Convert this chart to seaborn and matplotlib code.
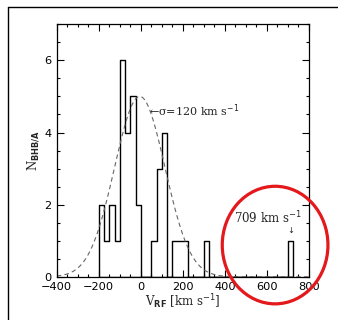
"""
Recreate the BHB/A radial velocity histogram with the 709 km/s outlier circled.

Usage:
    python plot.py
"""

import numpy as np
import matplotlib

matplotlib.use("Agg")

import matplotlib.pyplot as plt
import seaborn as sns
from matplotlib.patches import Ellipse
from matplotlib.lines import Line2D
from matplotlib.ticker import MultipleLocator

# =============================================================================
# Data
# =============================================================================

# left edges of the 25 km/s bins
bin_left = [-200, -175, -150, -125, -100, -75, -50, -25, 0, 25, 50, 75,
            100, 125, 150, 175, 200, 225, 250, 275, 300, 325, 350, 375,
            400, 425, 450, 475, 500, 525, 550, 575, 600, 625, 650, 675, 700]

bin_counts = [2, 1, 2, 1, 6, 4, 5, 2, 0, 0, 1, 3,
              4, 0, 1, 1, 1, 0, 0, 0, 1, 0, 0, 0,
              0, 0, 0, 0, 0, 0, 0, 0, 0, 0, 0, 0, 1]

BIN_WIDTH = 25

# gaussian model drawn over the histogram
gauss_peak = 5.0
gauss_center = -5.0
gauss_sigma = 120.0

x_ticks = [-400, -200, 0, 200, 400, 600, 800]
y_ticks = [0, 2, 4, 6]

# =============================================================================
# Plot
# =============================================================================


def main():

    sns.set_style("ticks")
    plt.rcParams["font.family"] = ["DejaVu Sans"]

    fig = plt.figure(figsize=(3.38, 3.20), dpi=100)
    ax = fig.add_axes([0.168, 0.135, 0.746, 0.789])

    edges = bin_left + [bin_left[-1] + BIN_WIDTH]
    centers = [b + BIN_WIDTH / 2 for b in bin_left]

    sns.histplot(
        x=centers,
        weights=bin_counts,
        bins=edges,
        element="step",
        fill=True,
        color="black",
        linewidth=1.0,
        ax=ax,
    )
    # outline only
    for coll in ax.collections:
        coll.set_facecolor("none")
        coll.set_edgecolor("black")

    gx = np.linspace(-400, 800, 500)
    gy = gauss_peak * np.exp(-(gx - gauss_center) ** 2 / (2 * gauss_sigma ** 2))

    sns.lineplot(
        x=gx,
        y=gy,
        color="#666666",
        linestyle=(0, (4, 3)),
        linewidth=0.8,
        ax=ax,
    )

    ax.set_xlim(-400, 800)
    ax.set_ylim(0, 7)
    ax.set_xticks(x_ticks)
    ax.set_yticks(y_ticks)
    ax.set_xticklabels(["\u2212400", "\u2212200", "0", "200", "400", "600", "800"])
    ax.xaxis.set_minor_locator(MultipleLocator(50))
    ax.yaxis.set_minor_locator(MultipleLocator(0.5))

    ax.tick_params(which="both", direction="in", top=True, right=True,
                   width=0.8, colors="black", labelsize=8.2)
    ax.tick_params(which="major", length=5)
    ax.tick_params(which="minor", length=2.5)
    ax.tick_params(axis="x", pad=4)
    ax.tick_params(axis="y", pad=4)

    for spine in ax.spines.values():
        spine.set_linewidth(0.9)
        spine.set_color("black")

    ax.set_xlabel(r"V$_{\mathbf{RF}}$ [km s$^{-1}$]",
                  family="DejaVu Serif", fontsize=8.5, labelpad=0)
    ax.set_ylabel(r"N$_{\mathbf{BHB/A}}$",
                  family="DejaVu Serif", fontsize=8.5, labelpad=2)

    # annotations
    ax.text(40, 4.6, "\u2190\u03c3=120 km s$^{-1}$",
            family="DejaVu Serif", fontsize=8, va="center", ha="left")
    ax.text(445, 1.64, "709 km s$^{-1}$",
            family="DejaVu Serif", fontsize=8.5, va="center", ha="left")
    ax.text(714, 1.27, "\u2193", family="DejaVu Sans", fontsize=6,
            va="center", ha="center")

    # red circle around the outlier
    ellipse = Ellipse(
        (639, 0.88),
        width=503,
        height=3.26,
        facecolor="none",
        edgecolor="#e3191c",
        linewidth=2.3,
        clip_on=False,
        zorder=5,
    )
    ax.add_patch(ellipse)

    # page frame
    fig.add_artist(Line2D([8 / 338, 8 / 338], [0, 1 - 7 / 320],
                          color="black", linewidth=1.0))
    fig.add_artist(Line2D([8 / 338, 1], [1 - 7 / 320, 1 - 7 / 320],
                          color="black", linewidth=1.0))

    fig.savefig("out.png", dpi=100)
    plt.close(fig)


if __name__ == "__main__":
    main()
